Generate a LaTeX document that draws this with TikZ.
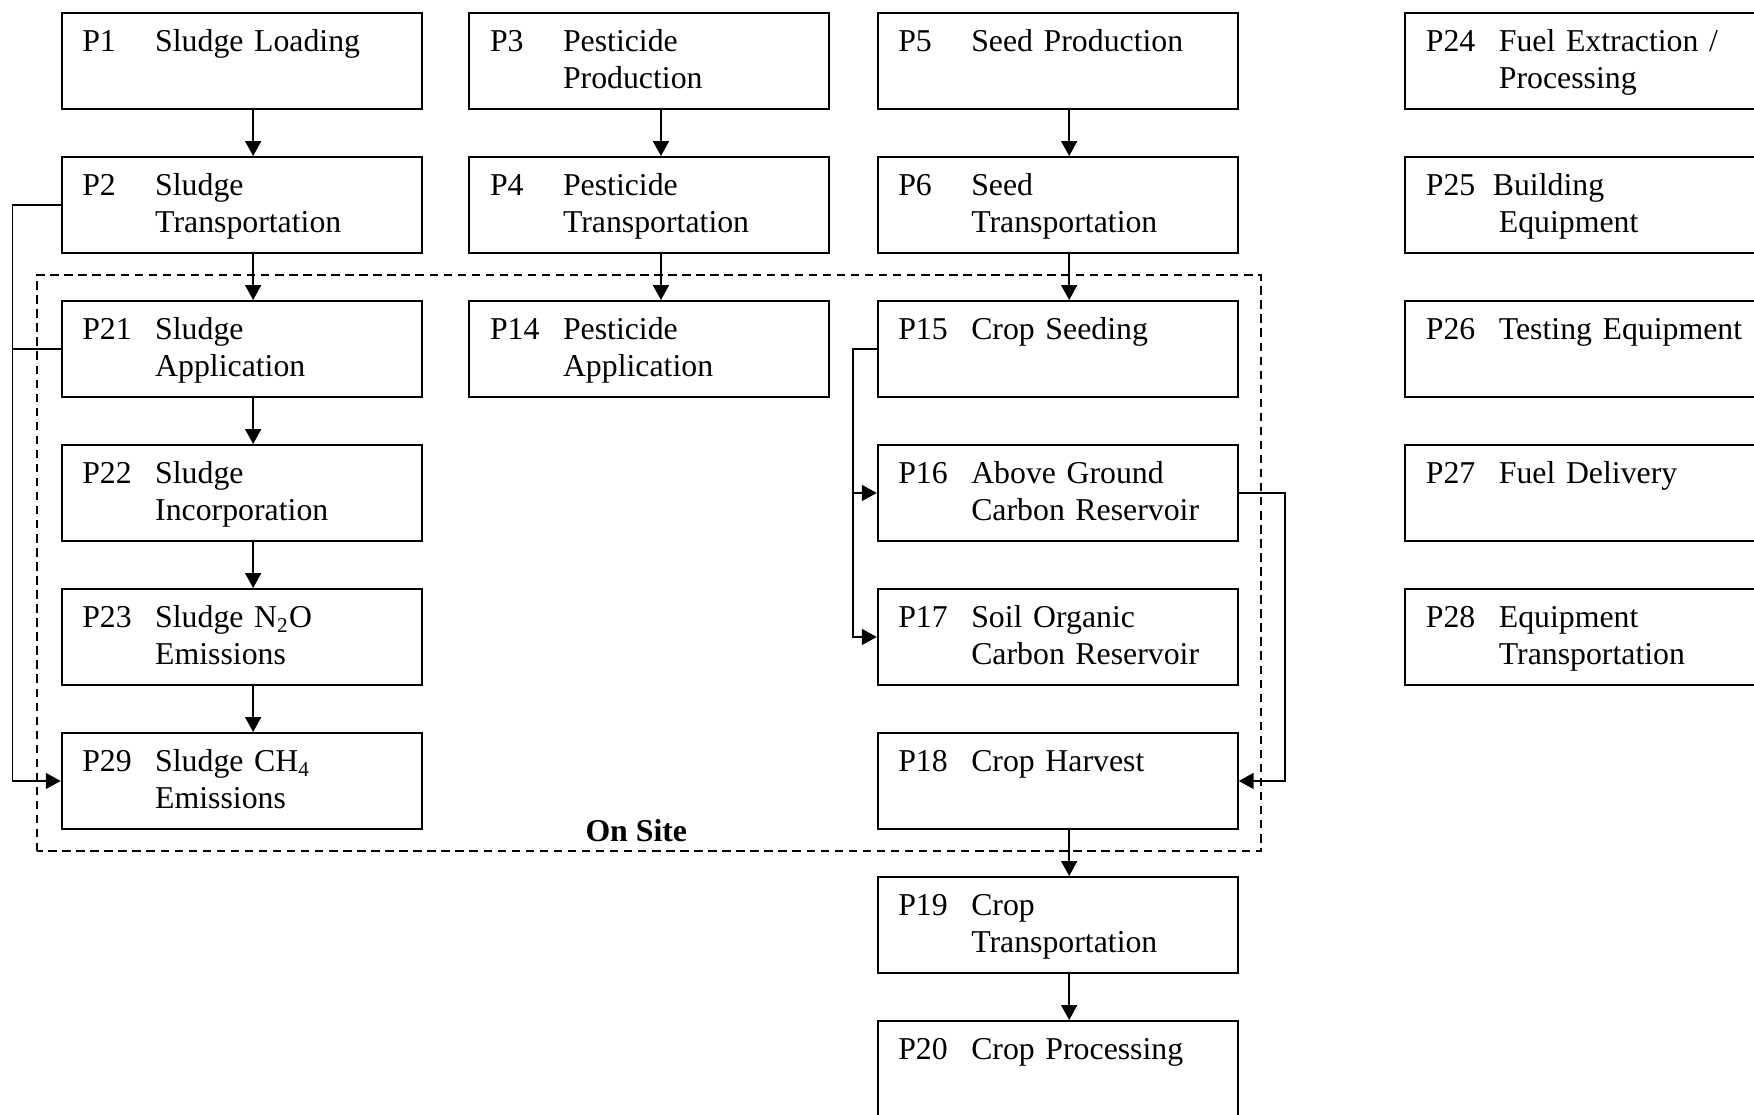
\documentclass[tikz,border=0pt]{standalone}
\usepackage{fontspec}
\setmainfont{Liberation Serif}
\usetikzlibrary{arrows.meta}

\newcommand{\pline}[3]{\makebox[0.968cm][l]{#1}#2\\\hspace*{0.968cm}#3}

\begin{document}
\begin{tikzpicture}[
  box/.style={draw, line width=0.75pt, anchor=north west, minimum width=4.775cm, minimum height=1.273cm, inner sep=0pt},
  ptext/.style={anchor=base west, inner sep=0pt, text width=4.6cm, align=left, font=\fontsize{12}{14}\selectfont},
  flow/.style={line width=0.65pt, -{Triangle[length=5.6pt,width=6pt]}},
  bus/.style={line width=0.5pt},
]
\path[use as bounding box, clip] (0,0) rectangle (23.265,14.776);

% on site border
\draw[line width=0.75pt, dash pattern=on 3.2pt off 2.1pt] (0.487,3.482) rectangle (16.726,11.125);
\node[anchor=base west, inner sep=0pt, font=\bfseries\fontsize{12}{14}\selectfont] (onsite) at (7.759,3.608) {On Site};

% sludge column
\node[box] (p1) at (0.805,14.617) {};
\node[box] (p2) at (0.805,12.707) {};
\node[box] (p21) at (0.805,10.797) {};
\node[box] (p22) at (0.805,8.887) {};
\node[box] (p23) at (0.805,6.977) {};
\node[box] (p29) at (0.805,5.067) {};
\node[ptext] (p1t) at ([shift={(0.279,-0.527)}]p1.north west) {\pline{P1}{Sludge Loading}{}};
\node[ptext] (p2t) at ([shift={(0.279,-0.527)}]p2.north west) {\pline{P2}{Sludge}{Transportation}};
\node[ptext] (p21t) at ([shift={(0.279,-0.527)}]p21.north west) {\pline{P21}{Sludge}{Application}};
\node[ptext] (p22t) at ([shift={(0.279,-0.527)}]p22.north west) {\pline{P22}{Sludge}{Incorporation}};
\node[ptext] (p23t) at ([shift={(0.279,-0.527)}]p23.north west) {\pline{P23}{Sludge N\textsubscript{2}O}{Emissions}};
\node[ptext] (p29t) at ([shift={(0.279,-0.527)}]p29.north west) {\pline{P29}{Sludge CH\textsubscript{4}}{Emissions}};

% pesticide column
\node[box] (p3) at (6.214,14.617) {};
\node[box] (p4) at (6.214,12.707) {};
\node[box] (p14) at (6.214,10.797) {};
\node[ptext] (p3t) at ([shift={(0.279,-0.527)}]p3.north west) {\pline{P3}{Pesticide}{Production}};
\node[ptext] (p4t) at ([shift={(0.279,-0.527)}]p4.north west) {\pline{P4}{Pesticide}{Transportation}};
\node[ptext] (p14t) at ([shift={(0.279,-0.527)}]p14.north west) {\pline{P14}{Pesticide}{Application}};

% crop column
\node[box] (p5) at (11.629,14.617) {};
\node[box] (p6) at (11.629,12.707) {};
\node[box] (p15) at (11.629,10.797) {};
\node[box] (p16) at (11.629,8.887) {};
\node[box] (p17) at (11.629,6.977) {};
\node[box] (p18) at (11.629,5.067) {};
\node[box] (p19) at (11.629,3.157) {};
\node[box] (p20) at (11.629,1.247) {};
\node[ptext] (p5t) at ([shift={(0.279,-0.527)}]p5.north west) {\pline{P5}{Seed Production}{}};
\node[ptext] (p6t) at ([shift={(0.279,-0.527)}]p6.north west) {\pline{P6}{Seed}{Transportation}};
\node[ptext] (p15t) at ([shift={(0.279,-0.527)}]p15.north west) {\pline{P15}{Crop Seeding}{}};
\node[ptext] (p16t) at ([shift={(0.279,-0.527)}]p16.north west) {\pline{P16}{Above Ground}{Carbon Reservoir}};
\node[ptext] (p17t) at ([shift={(0.279,-0.527)}]p17.north west) {\pline{P17}{Soil Organic}{Carbon Reservoir}};
\node[ptext] (p18t) at ([shift={(0.279,-0.527)}]p18.north west) {\pline{P18}{Crop Harvest}{}};
\node[ptext] (p19t) at ([shift={(0.279,-0.527)}]p19.north west) {\pline{P19}{Crop}{Transportation}};
\node[ptext] (p20t) at ([shift={(0.279,-0.527)}]p20.north west) {\pline{P20}{Crop Processing}{}};

% equipment column
\node[box] (p24) at (18.627,14.617) {};
\node[box] (p25) at (18.627,12.707) {};
\node[box] (p26) at (18.627,10.797) {};
\node[box] (p27) at (18.627,8.887) {};
\node[box] (p28) at (18.627,6.977) {};
\node[ptext] (p24t) at ([shift={(0.279,-0.527)}]p24.north west) {\pline{P24}{Fuel Extraction /}{Processing}};
\node[ptext] (p25t) at ([shift={(0.279,-0.527)}]p25.north west) {\makebox[0.888cm][l]{P25}Building\\\hspace*{0.968cm}Equipment};
\node[ptext] (p26t) at ([shift={(0.279,-0.527)}]p26.north west) {\pline{P26}{Testing Equipment}{}};
\node[ptext] (p27t) at ([shift={(0.279,-0.527)}]p27.north west) {\pline{P27}{Fuel Delivery}{}};
\node[ptext] (p28t) at ([shift={(0.279,-0.527)}]p28.north west) {\pline{P28}{Equipment}{Transportation}};

% downward flows
\draw[flow] ([xshift=2.553cm]p1.south west) -- ([xshift=2.553cm]p2.north west);
\draw[flow] ([xshift=2.553cm]p2.south west) -- ([xshift=2.553cm]p21.north west);
\draw[flow] ([xshift=2.553cm]p21.south west) -- ([xshift=2.553cm]p22.north west);
\draw[flow] ([xshift=2.553cm]p22.south west) -- ([xshift=2.553cm]p23.north west);
\draw[flow] ([xshift=2.553cm]p23.south west) -- ([xshift=2.553cm]p29.north west);
\draw[flow] ([xshift=2.553cm]p3.south west) -- ([xshift=2.553cm]p4.north west);
\draw[flow] ([xshift=2.553cm]p4.south west) -- ([xshift=2.553cm]p14.north west);
\draw[flow] ([xshift=2.553cm]p5.south west) -- ([xshift=2.553cm]p6.north west);
\draw[flow] ([xshift=2.553cm]p6.south west) -- ([xshift=2.553cm]p15.north west);
\draw[flow] ([xshift=2.553cm]p18.south west) -- ([xshift=2.553cm]p19.north west);
\draw[flow] ([xshift=2.553cm]p19.south west) -- ([xshift=2.553cm]p20.north west);

% side branches
\coordinate (lbus) at (0.168,0);
\coordinate (sbus) at (11.314,0);
\coordinate (rbus) at (17.044,0);
\draw[flow, line width=0.5pt] (p2.west) -| (lbus |- p29.west) -- (p29.west);
\draw[bus] (p21.west) -- (lbus |- p21.west);
\draw[flow, line width=0.55pt] (p15.west) -| (sbus |- p17.west) -- (p17.west);
\draw[flow, line width=0.55pt] (sbus |- p16.west) -- (p16.west);
\draw[flow, line width=0.55pt] (p16.east) -| (rbus |- p18.east) -- (p18.east);
\end{tikzpicture}
\end{document}
